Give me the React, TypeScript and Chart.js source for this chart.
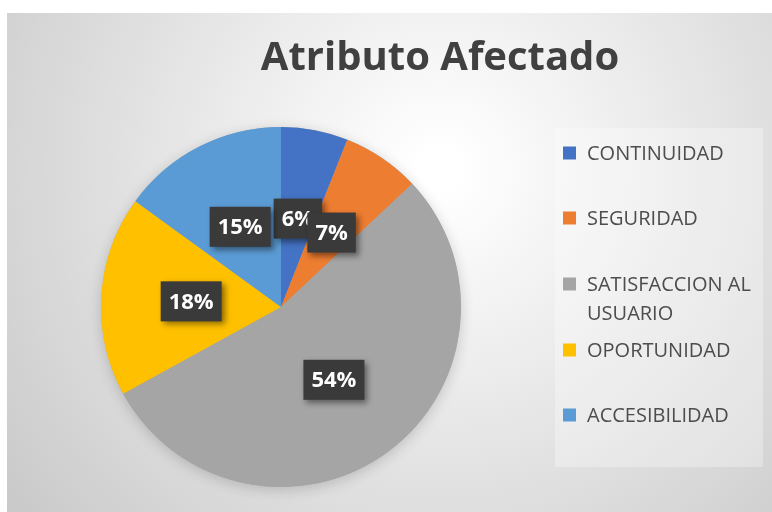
import React, { useEffect, useRef } from "react";
import { Chart, registerables } from "chart.js";

Chart.register(...registerables);

const TITLE = "Atributo Afectado";
const categories = ["CONTINUIDAD", "SEGURIDAD", "SATISFACCION AL USUARIO", "OPORTUNIDAD", "ACCESIBILIDAD"];
const legendLines = [["CONTINUIDAD"], ["SEGURIDAD"], ["SATISFACCION AL", "USUARIO"], ["OPORTUNIDAD"], ["ACCESIBILIDAD"]];
const values = [6, 7, 54, 18, 15];
const percentLabels = ["6%", "7%", "54%", "18%", "15%"];
const colors = ["#4472C4", "#ED7D31", "#A5A5A5", "#FFC000", "#5B9BD5"];

const W = 772;
const H = 512;

const bgPlugin = {
  id: "bg",
  beforeDraw(chart: any) {
    const ctx = chart.ctx;
    ctx.save();
    ctx.fillStyle = "#ffffff";
    ctx.fillRect(0, 0, W, H);
    const g = ctx.createRadialGradient(440, 170, 20, 440, 170, 560);
    g.addColorStop(0, "#ffffff");
    g.addColorStop(0.35, "#ececec");
    g.addColorStop(1, "#c8c8c8");
    ctx.fillStyle = g;
    ctx.fillRect(7, 13, W - 7, H - 13);
    // title
    ctx.fillStyle = "#404040";
    ctx.font = "bold 40px 'Open Sans'";
    ctx.textAlign = "center";
    ctx.textBaseline = "alphabetic";
    ctx.fillText(TITLE, 440, 70);
    // legend box
    ctx.fillStyle = "rgba(255,255,255,0.3)";
    ctx.fillRect(555, 128, 208, 339);
    const ys = [153, 218, 284, 350, 415];
    ctx.font = "20px 'Open Sans'";
    ctx.textAlign = "left";
    ctx.textBaseline = "middle";
    legendLines.forEach((lines, i) => {
      ctx.fillStyle = colors[i];
      ctx.fillRect(563, ys[i] - 6.5, 13, 13);
      ctx.fillStyle = "#4d4d4d";
      lines.forEach((t, j) => ctx.fillText(t, 587, ys[i] + 1 + j * 29));
    });
    ctx.restore();
  },
  beforeDatasetsDraw(chart: any) {
    const ctx = chart.ctx;
    ctx.save();
    ctx.shadowColor = "rgba(0,0,0,0.18)";
    ctx.shadowBlur = 14;
    ctx.shadowOffsetY = 3;
    const a = chart.getDatasetMeta(0).data[0];
    ctx.fillStyle = "#a5a5a5";
    ctx.beginPath();
    ctx.arc(a.x, a.y, a.outerRadius, 0, Math.PI * 2);
    ctx.fill();
    ctx.restore();
  },
};

const labelPlugin = {
  id: "boxLabels",
  afterDatasetsDraw(chart: any) {
    const ctx = chart.ctx;
    const meta = chart.getDatasetMeta(0);
    ctx.save();
    ctx.font = "bold 22px 'Open Sans'";
    ctx.textAlign = "center";
    ctx.textBaseline = "middle";
    meta.data.forEach((arc: any, i: number) => {
      const p = arc.tooltipPosition();
      const text = percentLabels[i];
      const tw = ctx.measureText(text).width;
      const bw = tw + 16;
      const bh = 40;
      ctx.save();
      ctx.shadowColor = "rgba(0,0,0,0.45)";
      ctx.shadowBlur = 6;
      ctx.shadowOffsetX = 3;
      ctx.shadowOffsetY = 3;
      ctx.fillStyle = "#3a3a3a";
      ctx.fillRect(p.x - bw / 2, p.y - bh / 2, bw, bh);
      ctx.restore();
      ctx.fillStyle = "#ffffff";
      ctx.fillText(text, p.x, p.y + 1);
    });
    ctx.restore();
  },
};

export default function App() {
  const ref = useRef<HTMLCanvasElement | null>(null);
  useEffect(() => {
    if (!ref.current) return;
    const chart = new Chart(ref.current, {
      type: "pie",
      data: {
        labels: categories,
        datasets: [
          {
            data: values,
            backgroundColor: colors,
            borderWidth: 0,
          },
        ],
      },
      options: {
        responsive: false,
        animation: false,
        layout: { padding: { top: 127, bottom: 25, left: 101, right: 311 } },
        plugins: {
          legend: { display: false },
          tooltip: { enabled: false },
          title: { display: false },
        },
      },
      plugins: [bgPlugin, labelPlugin],
    });
    return () => chart.destroy();
  }, []);
  return (
    <div style={{ position: "fixed", left: 0, top: 0, width: W, height: H }}>
      <canvas ref={ref} width={W} height={H} style={{ width: W, height: H, display: "block" }} />
    </div>
  );
}
